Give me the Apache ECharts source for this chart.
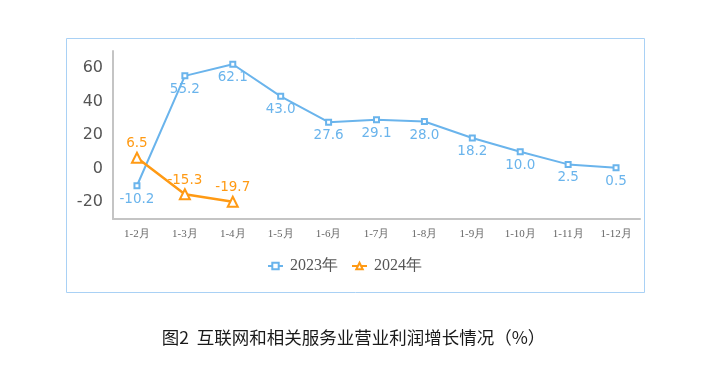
<!DOCTYPE html>
<html><head><meta charset="utf-8">
<script src="https://cdn.jsdelivr.net/npm/echarts@6/dist/echarts.min.js"></script>
<style>html,body{margin:0;padding:0;background:#fff}#c{width:707px;height:383px}</style>
</head><body><div id="c"></div>
<script>
const categories = ['1-2月','1-3月','1-4月','1-5月','1-6月','1-7月','1-8月','1-9月','1-10月','1-11月','1-12月'];
const s2023 = [-10.2,55.2,62.1,43.0,27.6,29.1,28.0,18.2,10.0,2.5,0.5];
const s2024 = [6.5,-15.3,-19.7];
const yTicks = [-20,0,20,40,60];
const title = '图2  互联网和相关服务业营业利润增长情况（%）';

const chart = echarts.init(document.getElementById('c'));
chart.setOption({
  animation:false,
  graphic:[
    {type:'rect',shape:{x:66.5,y:38.5,width:578,height:254},style:{fill:'none',stroke:'#a9d1f5',lineWidth:1}},
    {type:'text',left:'center',top:329,style:{text:title,font:'17.5px "Noto Sans CJK SC"',fill:'#1a1a1a'}}
  ],
  grid:{left:113,right:67,top:51,bottom:164},
  legend:{top:253,left:262,itemGap:13,itemWidth:15,itemHeight:8,
    textStyle:{fontFamily:'serif',fontSize:16,color:'#555',padding:[0,0,0,2]},
    data:['2023年','2024年']},
  xAxis:{type:'category',data:categories,boundaryGap:true,
    axisLine:{onZero:false,lineStyle:{color:'#c4c4c4',width:2}},axisTick:{show:false},
    axisLabel:{fontFamily:'serif',fontSize:11,color:'#666',margin:10,interval:0}},
  yAxis:{type:'value',min:-30,max:70,interval:10,
    axisLine:{show:true,lineStyle:{color:'#c4c4c4',width:2}},axisTick:{show:false},splitLine:{show:false},
    axisLabel:{fontFamily:'DejaVu Sans',fontSize:16,color:'#555',margin:10,
      formatter:v=>yTicks.includes(v)?String(v):''}},
  series:[
    {name:'2023年',type:'line',data:s2023,color:'#6ab4ec',symbol:'emptyRect',symbolSize:5,
      lineStyle:{width:2},itemStyle:{borderWidth:2},
      label:{show:true,position:'bottom',distance:3,color:'#6ab4ec',fontFamily:'DejaVu Sans',fontSize:13.5,formatter:p=>p.value.toFixed(1)}},
    {name:'2024年',type:'line',data:s2024,color:'#ff9a14',symbol:'emptyTriangle',symbolSize:10,
      lineStyle:{width:2.5},itemStyle:{borderWidth:2},
      label:{show:true,position:'top',distance:1,color:'#ff9a14',fontFamily:'DejaVu Sans',fontSize:13.5,formatter:p=>p.value.toFixed(1)}}
  ]
});
</script></body></html>
